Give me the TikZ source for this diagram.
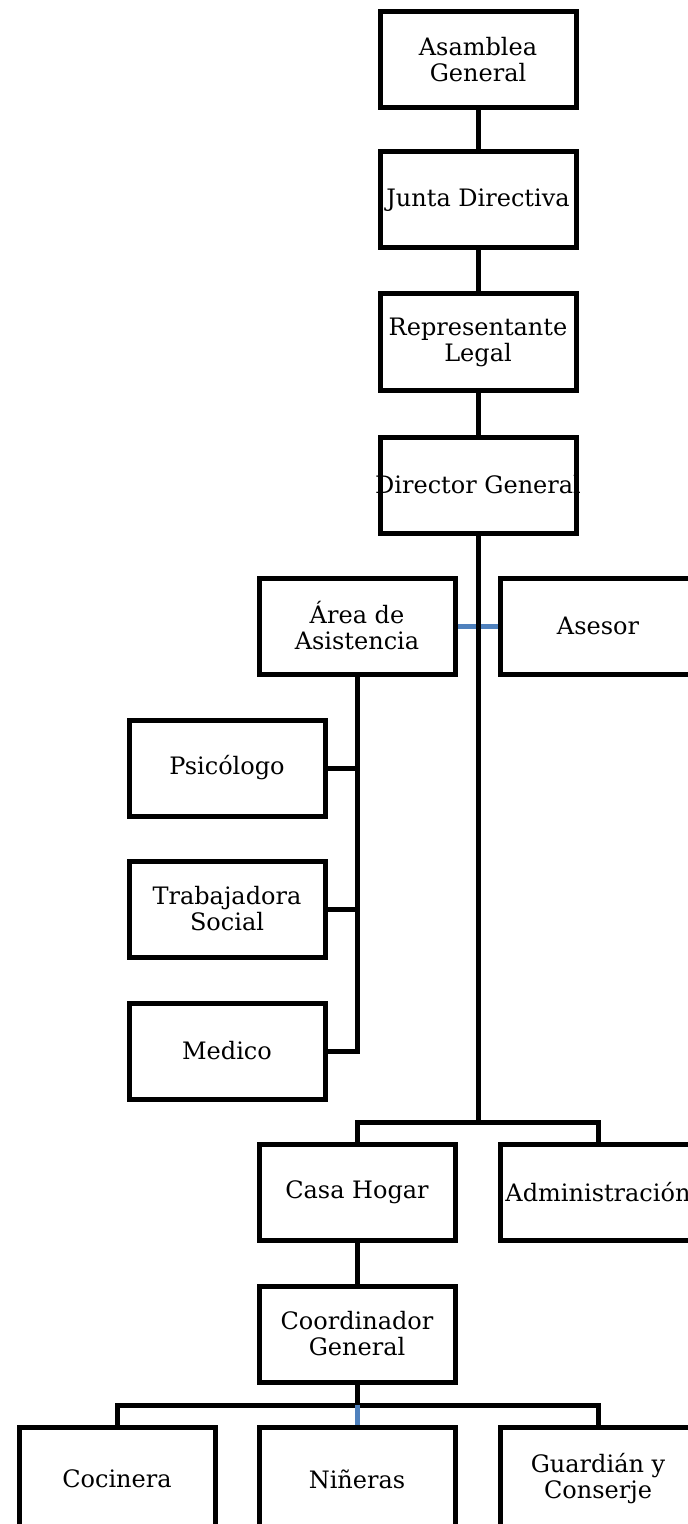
\documentclass[tikz,border=0pt]{standalone}
\usepackage{fontspec}
\setmainfont{DejaVu Serif}
\definecolor{azul}{RGB}{79,129,189}
\tikzset{
  puesto/.style={draw, line width=2.5pt, minimum width=98pt, minimum height=48pt, inner xsep=-4pt, inner ysep=0pt, align=center, font=\fontsize{12}{13}\selectfont},
  enlace/.style={line width=2.5pt},
  enlaceazul/.style={line width=2.5pt, draw=azul}
}
\begin{document}
\begin{tikzpicture}[x=0.5pt,y=-0.5pt]
  \useasboundingbox (0,0) rectangle (688,1524);
  \node[puesto] (ag) at (478,60) {Asamblea\\General};
  \node[puesto] (jd) at (478,200) {Junta Directiva};
  \node[puesto] (rl) at (478,342) {Representante\\Legal};
  \node[puesto] (dg) at (478,485) {Director General};
  \node[puesto] (aa) at (357,626) {Área de\\Asistencia};
  \node[puesto] (as) at (598,626) {Asesor};
  \node[puesto] (ps) at (227,768) {Psicólogo};
  \node[puesto] (ts) at (227,909) {Trabajadora\\Social};
  \node[puesto] (me) at (227,1051) {Medico};
  \node[puesto] (ch) at (357,1192) {Casa Hogar};
  \node[puesto] (ad) at (598,1192) {Administración};
  \node[puesto] (cg) at (357,1334) {Coordinador\\General};
  \node[puesto, minimum height=52pt] (co) at (117,1479) {Cocinera};
  \node[puesto, minimum height=52pt] (ni) at (357,1479) {Niñeras};
  \node[puesto, minimum height=52pt] (gc) at (598,1479) {Guardián y\\Conserje};
  \coordinate (b1) at (478,1122);
  \coordinate (b2) at (357,1405);
  \draw[enlace] (ag) -- (jd);
  \draw[enlace] (jd) -- (rl);
  \draw[enlace] (rl) -- (dg);
  \draw[enlaceazul] (aa.east) -- (as.west);
  \draw[enlace] (dg.south) -- (b1);
  \draw[enlace] (ps.east) -| (aa.south);
  \draw[enlace] (ts.east) -| (aa.south);
  \draw[enlace] (me.east) -| (aa.south);
  \draw[enlace] (ch.north) |- (b1) -| (ad.north);
  \draw[enlace] (ch) -- (cg);
  \draw[enlace] (cg.south) -- (b2);
  \draw[enlace] (co.north) |- (b2) -| (gc.north);
  \draw[enlaceazul] (b2) -- (ni.north);
\end{tikzpicture}
\end{document}
